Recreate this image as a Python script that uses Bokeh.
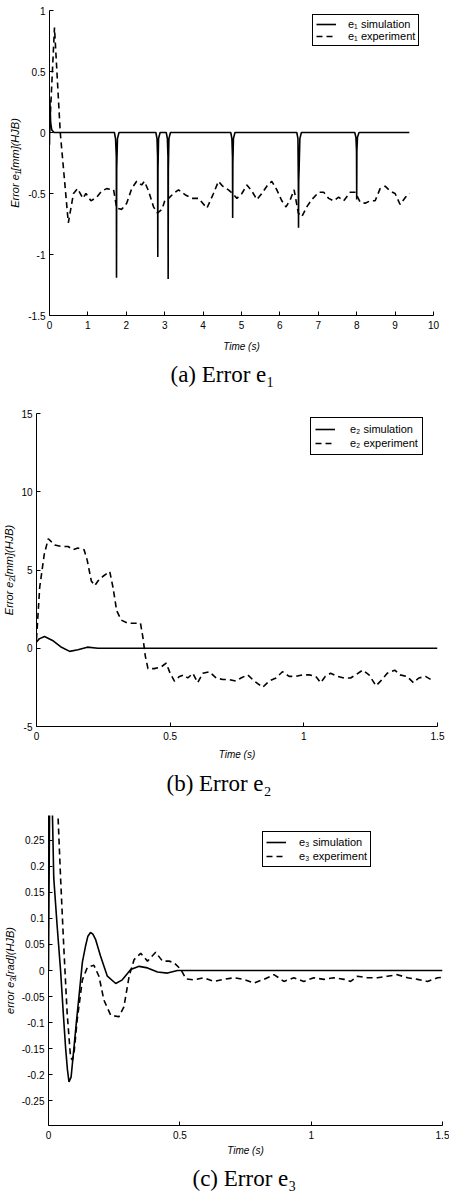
from bokeh.plotting import figure
from bokeh.models import Legend, LegendItem, FixedTicker, Range1d, CustomJSTickFormatter
from bokeh.layouts import column
from bokeh.embed import file_html
from bokeh.resources import INLINE

# ---------------- Panel (a): error e1 ----------------
e1_sim_t = [0.0, 0.01, 0.03, 0.06, 0.12,
            1.69, 1.72, 1.74, 1.745, 1.75, 1.77, 1.81,
            2.77, 2.80, 2.815, 2.82, 2.825, 2.84, 2.88,
            3.04, 3.07, 3.085, 3.09, 3.095, 3.11, 3.15,
            4.72, 4.75, 4.765, 4.77, 4.775, 4.79, 4.83,
            6.44, 6.47, 6.48, 6.485, 6.49, 6.50, 6.52, 6.56,
            7.95, 7.98, 7.995, 8.0, 8.005, 8.02, 8.06,
            9.37]
e1_sim_v = [-0.1, 0.27, 0.08, 0.02, 0.0,
            0.0, -0.05, -0.2, -1.19, -0.3, -0.05, 0.0,
            0.0, -0.05, -0.2, -1.02, -0.3, -0.05, 0.0,
            0.0, -0.05, -0.2, -1.2, -0.3, -0.05, 0.0,
            0.0, -0.05, -0.2, -0.7, -0.25, -0.05, 0.0,
            0.0, -0.05, -0.4, -0.78, -0.4, -0.3, -0.05, 0.0,
            0.0, -0.04, -0.15, -0.55, -0.15, -0.04, 0.0,
            0.0]
e1_exp_t = [0.0, 0.13, 0.28, 0.49, 0.625, 0.73, 0.87, 0.95, 1.08, 1.23, 1.36, 1.49,
            1.67, 1.75, 1.88, 2.01, 2.14, 2.27, 2.40, 2.47, 2.58, 2.71, 2.81, 2.93,
            3.01, 3.10, 3.23, 3.36, 3.53, 3.71, 3.88, 4.10, 4.27, 4.40, 4.51, 4.66,
            4.77, 4.88, 5.01, 5.14, 5.27, 5.40, 5.53, 5.66, 5.79, 5.92, 6.05, 6.16,
            6.27, 6.37, 6.48, 6.57, 6.70, 6.83, 7.01, 7.14, 7.27, 7.40, 7.53, 7.66,
            7.83, 7.96, 8.09, 8.22, 8.35, 8.48, 8.61, 8.74, 8.87, 9.00, 9.13, 9.27, 9.38]
e1_exp_v = [0.0, 0.86, 0.0, -0.74, -0.50, -0.46, -0.54, -0.50, -0.56, -0.53, -0.48, -0.46,
            -0.47, -0.62, -0.63, -0.58, -0.46, -0.40, -0.43, -0.40, -0.48, -0.61, -0.66, -0.63,
            -0.55, -0.54, -0.50, -0.47, -0.51, -0.54, -0.54, -0.62, -0.50, -0.40, -0.44, -0.47,
            -0.50, -0.54, -0.50, -0.43, -0.48, -0.55, -0.50, -0.44, -0.40, -0.47, -0.56, -0.61,
            -0.55, -0.47, -0.66, -0.69, -0.61, -0.55, -0.49, -0.49, -0.54, -0.56, -0.53, -0.56,
            -0.49, -0.49, -0.57, -0.58, -0.56, -0.56, -0.46, -0.44, -0.48, -0.50, -0.59, -0.53, -0.50]
e1_xticks = [0, 1, 2, 3, 4, 5, 6, 7, 8, 9, 10]
e1_yticks = [-1.5, -1, -0.5, 0, 0.5, 1]

# ---------------- Panel (b): error e2 ----------------
e2_sim_t = [0.0, 0.01, 0.03, 0.06, 0.09, 0.124, 0.155, 0.19, 0.23, 1.5]
e2_sim_v = [0.4, 0.6, 0.75, 0.5, 0.1, -0.2, -0.1, 0.07, 0.0, 0.0]
e2_exp_t = [0.0, 0.012, 0.029, 0.044, 0.068, 0.093, 0.118, 0.137, 0.155, 0.178, 0.19, 0.205,
            0.218, 0.23, 0.249, 0.274, 0.286, 0.30, 0.317, 0.342, 0.373, 0.389, 0.398, 0.407,
            0.417, 0.44, 0.466, 0.485, 0.50, 0.516, 0.535, 0.551, 0.566, 0.585, 0.603, 0.622,
            0.647, 0.672, 0.697, 0.72, 0.746, 0.765, 0.79, 0.815, 0.846, 0.87, 0.896, 0.92,
            0.945, 0.97, 0.995, 1.02, 1.045, 1.063, 1.08, 1.10, 1.126, 1.15, 1.175, 1.194,
            1.22, 1.244, 1.27, 1.287, 1.312, 1.34, 1.36, 1.386, 1.41, 1.43, 1.455, 1.486]
e2_exp_v = [0.6, 3.9, 6.0, 7.0, 6.6, 6.5, 6.5, 6.3, 6.4, 6.3, 5.6, 4.3,
            4.0, 4.3, 4.6, 4.9, 3.9, 2.4, 1.8, 1.6, 1.6, 1.6, 0.7, -0.5,
            -1.3, -1.3, -1.2, -0.95, -1.6, -2.1, -1.8, -1.7, -1.9, -1.6, -2.2, -1.6,
            -1.5, -1.9, -2.0, -2.0, -2.1, -1.9, -1.7, -2.1, -2.5, -2.1, -1.9, -1.5,
            -1.8, -1.8, -1.7, -1.7, -1.8, -2.2, -1.8, -1.6, -1.8, -1.9, -1.9, -1.7,
            -1.4, -1.7, -2.4, -2.1, -1.6, -1.4, -1.7, -1.8, -2.2, -1.9, -1.8, -2.1]
e2_xticks = [0, 0.5, 1, 1.5]
e2_yticks = [-5, 0, 5, 10, 15]

# ---------------- Panel (c): error e3 ----------------
e3_sim_t = [0.0, 0.005, 0.01, 0.015, 0.02, 0.033, 0.046, 0.056, 0.065, 0.072, 0.078, 0.086,
            0.097, 0.107, 0.116, 0.129, 0.141, 0.150, 0.160, 0.169, 0.179, 0.198, 0.224,
            0.256, 0.281, 0.313, 0.345, 0.377, 0.415, 0.453, 0.491, 1.5]
e3_sim_v = [0.0, 0.38, 0.42, 0.30, 0.178, 0.085, 0.0, -0.08, -0.148, -0.19, -0.214, -0.205,
            -0.148, -0.095, -0.05, 0.016, 0.047, 0.066, 0.073, 0.07, 0.06, 0.028, -0.011,
            -0.025, -0.018, 0.002, 0.008, 0.005, -0.003, -0.005, 0.0, 0.0]
e3_exp_t = [0.0, 0.03, 0.036, 0.046, 0.058, 0.071, 0.084, 0.091, 0.097, 0.109, 0.129, 0.148,
            0.173, 0.192, 0.211, 0.237, 0.268, 0.287, 0.307, 0.326, 0.351, 0.377, 0.408, 0.434,
            0.459, 0.478, 0.504, 0.523, 0.555, 0.591, 0.629, 0.667, 0.706, 0.744, 0.782, 0.82,
            0.858, 0.877, 0.896, 0.934, 0.972, 1.01, 1.049, 1.087, 1.125, 1.15, 1.176, 1.214,
            1.252, 1.29, 1.328, 1.367, 1.405, 1.443, 1.481, 1.5]
e3_exp_v = [0.45, 0.45, 0.30, 0.178, 0.047, -0.082, -0.167, -0.172, -0.16, -0.096, -0.018, 0.006,
            0.01, -0.011, -0.057, -0.086, -0.089, -0.07, -0.011, 0.021, 0.033, 0.018, 0.035, 0.018,
            0.018, 0.015, 0.002, -0.016, -0.018, -0.014, -0.021, -0.017, -0.014, -0.017, -0.024, -0.017,
            -0.008, -0.014, -0.021, -0.014, -0.021, -0.014, -0.017, -0.014, -0.017, -0.021, -0.011, -0.014,
            -0.014, -0.011, -0.008, -0.014, -0.017, -0.021, -0.014, -0.013]
e3_xticks = [0, 0.5, 1, 1.5]
e3_yticks = [-0.25, -0.2, -0.15, -0.1, -0.05, 0, 0.05, 0.1, 0.15, 0.2, 0.25]

SANS = "Liberation Sans"
SERIF = "Liberation Serif"
W = 449


def panel(sim_t, sim_v, exp_t, exp_v, xr, yr, xticks, yticks, ylabel, caption,
          sim_label, exp_label, height, b_left, b_right, b_top, b_bottom,
          leg_loc, leg_label_h, leg_pad, leg_standoff, cap_offset, cap_standoff,
          xl_standoff, yl_standoff):
    p = figure(width=W, height=height, output_backend="svg", toolbar_location=None,
               x_range=Range1d(*xr), y_range=Range1d(*yr),
               min_border_left=b_left, min_border_right=b_right,
               min_border_top=b_top, min_border_bottom=b_bottom,
               title=caption, title_location="below")
    p.frame_align = False
    p.outline_line_color = None
    p.grid.visible = False
    p.background_fill_color = "white"
    p.border_fill_color = "white"
    fmt = CustomJSTickFormatter(code="return String(parseFloat(tick.toFixed(3)));")
    for ax, ticks in ((p.xaxis[0], xticks), (p.yaxis[0], yticks)):
        ax.ticker = FixedTicker(ticks=ticks)
        ax.formatter = fmt
        ax.axis_line_color = "black"
        ax.axis_line_width = 1
        ax.major_tick_line_color = "black"
        ax.major_tick_in = 4
        ax.major_tick_out = 0
        ax.minor_tick_line_color = None
        ax.minor_tick_in = 0
        ax.minor_tick_out = 0
        ax.major_label_text_font = SANS
        ax.major_label_text_font_size = "10px"
        ax.major_label_text_color = "black"
        ax.axis_label_text_font = SANS
        ax.axis_label_text_font_style = "italic"
        ax.axis_label_text_color = "black"
    p.xaxis.axis_label = "Time (s)"
    p.xaxis.axis_label_text_font_size = "10px"
    p.xaxis.major_label_standoff = 5
    p.xaxis.axis_label_standoff = xl_standoff
    p.yaxis.axis_label = ylabel
    p.yaxis.axis_label_text_font_size = "11px"
    p.yaxis.major_label_standoff = 4
    p.yaxis.axis_label_standoff = yl_standoff

    p.title.text_font = SERIF
    p.title.text_font_size = "23px"
    p.title.text_font_style = "normal"
    p.title.text_color = "black"
    p.title.align = "left"
    p.title.offset = cap_offset
    p.title.standoff = cap_standoff

    r_sim = p.line(sim_t, sim_v, line_color="black", line_width=1.6)
    r_exp = p.line(exp_t, exp_v, line_color="black", line_width=1.6, line_dash="6 4")
    leg = Legend(items=[LegendItem(label=sim_label, renderers=[r_sim]),
                        LegendItem(label=exp_label, renderers=[r_exp])],
                 location=leg_loc)
    leg.border_line_color = "black"
    leg.border_line_width = 1
    leg.border_line_alpha = 1
    leg.background_fill_color = "white"
    leg.background_fill_alpha = 1
    leg.padding = leg_pad
    leg.spacing = 0
    leg.margin = 0
    leg.label_height = leg_label_h
    leg.glyph_height = leg_label_h
    leg.glyph_width = 20
    leg.label_standoff = leg_standoff
    leg.label_text_font = SANS
    leg.label_text_font_size = "11px"
    leg.label_text_color = "black"
    p.add_layout(leg)
    return p


p1 = panel(e1_sim_t, e1_sim_v, e1_exp_t, e1_exp_v, (0, 10), (-1.5, 1), e1_xticks, e1_yticks,
           "Error e\u2081[mm](HJB)", "(a) Error e\u2081", "e\u2081 simulation", "e\u2081 experiment",
           392, 49, W - 433, 10, 75, (263, 269), 12, 3, 12, 121, 11, 9, 4)
p2 = panel(e2_sim_t, e2_sim_v, e2_exp_t, e2_exp_v, (0, 1.5), (-5, 15), e2_xticks, e2_yticks,
           "Error e\u2082[mm](HJB)", "(b) Error e\u2082", "e\u2082 simulation", "e\u2082 experiment",
           410, 35, W - 437, 21, 72, (274, 271), 14, 4, 15, 130, 13, 6, 3)
p3 = panel(e3_sim_t, e3_sim_v, e3_exp_t, e3_exp_v, (0, 1.5), (-0.298, 0.298), e3_xticks, e3_yticks,
           "error e\u2083[rad](HJB)", "(c) Error e\u2083", "e\u2083 simulation", "e\u2083 experiment",
           393, 48, W - 442, 13, 68, (214, 258), 14, 3, 13, 144, 10, 3, 3)

layout = column(p1, p2, p3, spacing=0)
open("out.html", "w").write(file_html(layout, INLINE))
